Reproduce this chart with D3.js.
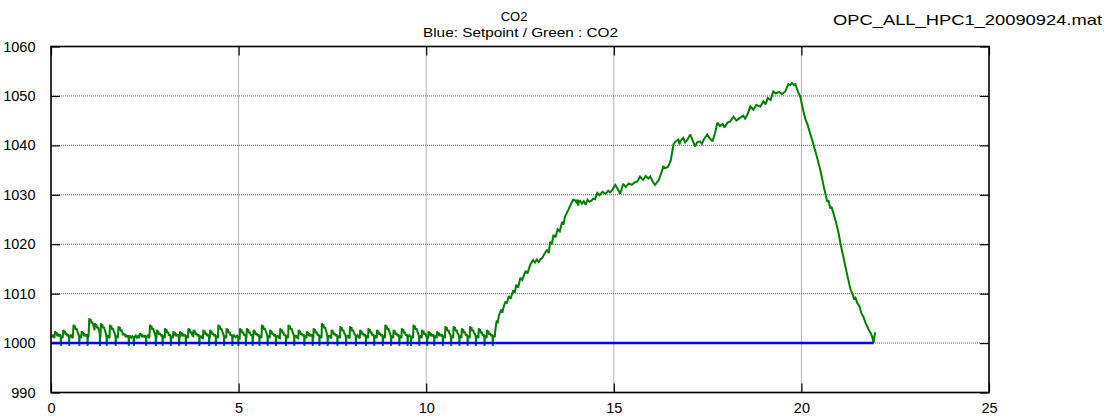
<!DOCTYPE html>
<html>
<head>
<meta charset="utf-8">
<script src="https://cdn.jsdelivr.net/npm/d3@7"></script>
<style>
  html, body { margin: 0; padding: 0; background: #fff; }
  svg { display: block; font-family: "Liberation Sans", Arial, sans-serif; }
</style>
</head>
<body>
<svg id="chart" width="1116" height="419"></svg>
<script>
// ---- data ----
const chartTitle = "CO2";
const chartSubtitle = "Blue: Setpoint / Green : CO2";
const fileLabel = "OPC_ALL_HPC1_20090924.mat";
const xTicks = [0, 5, 10, 15, 20, 25];
const yTicks = [990, 1000, 1010, 1020, 1030, 1040, 1050, 1060];
const xDomain = [0, 25];
const yDomain = [990, 1060];

// Setpoint (blue)
const setpointTime = [0, 21.92];
const setpointValue = [1000, 1000];

// Measured CO2 (green), [time, value]
const co2Series = [
[0,1001.6],[0.03,1001.2],[0.06,1001.7],[0.09,1001.0],[0.11,1002.4],[0.13,1001.9],[0.145,1002.2],[0.17,1001.4],[0.19,1001.7],[0.22,1001.4],[0.24,1001.8],[0.26,1001.2],[0.265,999.4],[0.27,1001.1],[0.29,1001.5],
[0.31,1001.0],[0.33,1002.7],[0.35,1002.2],[0.365,1002.5],[0.39,1001.7],[0.41,1002.0],[0.44,1001.4],[0.46,1001.8],[0.48,1001.2],[0.485,999.4],[0.49,1001.1],[0.53,1001.6],[0.56,1001.2],
[0.58,1001.0],[0.60,1003.7],[0.62,1003.2],[0.635,1003.5],[0.66,1002.7],[0.68,1003.0],[0.71,1002.2],[0.73,1001.9],[0.75,1001.2],[0.755,999.4],[0.76,1001.1],[0.78,1001.5],
[0.80,1001.0],[0.82,1002.4],[0.84,1001.9],[0.855,1002.2],[0.88,1001.4],[0.90,1001.7],[0.93,1001.4],[0.95,1001.8],[0.97,1001.2],[0.975,999.4],[0.98,1001.1],
[1.00,1001.3],[1.02,1005.0],[1.04,1004.5],[1.055,1004.8],[1.08,1004.0],[1.10,1004.3],[1.13,1003.5],[1.15,1003.0],
[1.16,1002.6],[1.17,1004.0],[1.19,1003.5],[1.205,1003.8],[1.23,1003.0],[1.25,1003.3],[1.28,1002.5],[1.30,1002.0],[1.305,999.4],[1.31,1001.4],
[1.32,1001.4],[1.33,1004.0],[1.35,1003.5],[1.365,1003.8],[1.39,1003.0],[1.41,1003.3],[1.44,1002.5],[1.46,1002.0],[1.48,1001.2],[1.485,999.4],[1.49,1001.1],[1.52,1001.6],[1.55,1001.1],
[1.56,1001.0],[1.57,1003.7],[1.59,1003.2],[1.605,1003.5],[1.63,1002.7],[1.65,1003.0],[1.68,1002.2],[1.70,1001.9],[1.72,1001.2],[1.725,999.4],[1.73,1001.1],[1.76,1001.5],
[1.78,1001.0],[1.80,1003.4],[1.82,1002.9],[1.835,1003.2],[1.86,1002.4],[1.88,1002.7],[1.91,1001.9],
[1.92,1001.6],[1.93,1002.0],[1.95,1001.6],[1.965,1001.9],[1.99,1001.2],[2.01,1001.5],[2.04,1001.3],[2.06,1001.6],[2.07,1001.2],[2.075,999.4],[2.08,1001.1],[2.11,1001.5],[2.14,1001.1],[2.17,1001.4],[2.20,1001.2],[2.21,999.4],[2.22,1001.1],[2.26,1001.5],[2.29,1001.1],[2.32,1001.4],[2.35,1001.0],
[2.37,1002.0],[2.39,1001.6],[2.405,1001.9],[2.43,1001.2],[2.45,1001.5],[2.48,1001.3],[2.50,1001.6],[2.53,1001.2],[2.535,999.4],[2.54,1001.1],[2.58,1001.5],[2.61,1001.1],
[2.62,1001.0],[2.64,1003.7],[2.66,1003.2],[2.675,1003.5],[2.70,1002.7],[2.72,1003.0],[2.75,1002.2],[2.77,1001.9],[2.79,1001.2],[2.795,999.4],[2.80,1001.1],
[2.81,1001.0],[2.82,1002.7],[2.84,1002.2],[2.855,1002.5],[2.88,1001.7],[2.90,1002.0],[2.93,1001.4],[2.95,1001.8],[2.97,1001.2],[2.975,999.4],[2.98,1001.1],[3.01,1001.5],
[3.03,1001.0],[3.04,1003.0],[3.06,1002.5],[3.075,1002.8],[3.10,1002.0],[3.12,1002.3],[3.15,1001.5],[3.17,1001.8],[3.19,1001.2],[3.195,999.4],[3.20,1001.1],[3.23,1001.4],
[3.25,1001.0],[3.26,1002.4],[3.28,1001.9],[3.295,1002.2],[3.32,1001.4],[3.34,1001.7],[3.37,1001.4],[3.39,1001.8],[3.41,1001.2],[3.415,999.4],[3.42,1001.1],
[3.43,1001.0],[3.44,1002.4],[3.46,1001.9],[3.475,1002.2],[3.50,1001.4],[3.52,1001.7],[3.55,1001.4],[3.57,1001.8],[3.59,1001.2],[3.595,999.4],[3.60,1001.1],[3.63,1001.5],
[3.65,1001.0],[3.66,1003.0],[3.68,1002.5],[3.695,1002.8],[3.72,1002.0],[3.74,1002.3],[3.77,1001.5],
[3.79,1001.4],[3.80,1002.7],[3.82,1002.2],[3.835,1002.5],[3.86,1001.7],[3.88,1002.0],[3.91,1001.4],[3.93,1001.8],[3.95,1001.2],[3.955,999.4],[3.96,1001.1],[3.99,1001.5],[4.02,1001.1],
[4.05,1001.0],[4.06,1002.7],[4.08,1002.2],[4.095,1002.5],[4.12,1001.7],[4.14,1002.0],[4.17,1001.4],[4.19,1001.8],[4.21,1001.2],[4.215,999.4],[4.22,1001.1],
[4.23,1001.0],[4.24,1002.7],[4.26,1002.2],[4.275,1002.5],[4.30,1001.7],[4.32,1002.0],[4.35,1001.4],[4.37,1001.8],[4.39,1001.2],[4.395,999.4],[4.40,1001.1],[4.43,1001.5],
[4.45,1001.0],[4.46,1003.7],[4.48,1003.2],[4.495,1003.5],[4.52,1002.7],[4.54,1003.0],[4.57,1002.2],[4.59,1001.9],[4.61,1001.2],[4.615,999.4],[4.62,1001.1],[4.65,1001.5],
[4.67,1001.0],[4.68,1003.0],[4.70,1002.5],[4.715,1002.8],[4.74,1002.0],[4.76,1002.3],[4.79,1001.5],[4.81,1001.8],[4.83,1001.2],[4.835,999.4],[4.84,1001.1],[4.88,1001.6],[4.92,1001.2],[4.96,1001.5],[4.99,1001.1],[4.995,999.4],[5.00,1001.1],
[5.03,1001.0],[5.04,1003.0],[5.06,1002.5],[5.075,1002.8],[5.10,1002.0],[5.12,1002.3],[5.15,1001.5],[5.17,1001.8],[5.19,1001.2],[5.195,999.4],[5.20,1001.1],
[5.21,1001.0],[5.22,1003.0],[5.24,1002.5],[5.255,1002.8],[5.28,1002.0],[5.30,1002.3],[5.33,1001.5],[5.35,1001.8],[5.37,1001.2],[5.375,999.4],[5.38,1001.1],
[5.39,1001.0],[5.40,1002.7],[5.42,1002.2],[5.435,1002.5],[5.46,1001.7],[5.48,1002.0],[5.51,1001.4],[5.53,1001.8],[5.55,1001.2],[5.555,999.4],[5.56,1001.1],[5.59,1001.5],
[5.61,1001.0],[5.62,1003.7],[5.64,1003.2],[5.655,1003.5],[5.68,1002.7],[5.70,1003.0],[5.73,1002.2],[5.75,1001.9],[5.77,1001.2],[5.775,999.4],[5.78,1001.1],[5.81,1001.5],
[5.83,1001.0],[5.84,1002.7],[5.86,1002.2],[5.875,1002.5],[5.90,1001.7],[5.92,1002.0],[5.95,1001.4],[5.97,1001.8],[5.99,1001.2],[5.995,999.4],[6.00,1001.1],[6.04,1001.6],[6.07,1001.1],
[6.10,1001.0],[6.11,1003.0],[6.13,1002.5],[6.145,1002.8],[6.17,1002.0],[6.19,1002.3],[6.22,1001.5],[6.24,1001.8],[6.26,1001.2],[6.265,999.4],[6.27,1001.1],[6.30,1001.5],
[6.32,1001.0],[6.33,1003.7],[6.35,1003.2],[6.365,1003.5],[6.39,1002.7],[6.41,1003.0],[6.44,1002.2],[6.46,1001.9],[6.48,1001.2],[6.485,999.4],[6.49,1001.1],[6.53,1001.6],[6.56,1001.1],
[6.59,1001.0],[6.60,1002.7],[6.62,1002.2],[6.635,1002.5],[6.66,1001.7],[6.68,1002.0],[6.71,1001.4],[6.73,1001.8],[6.75,1001.2],[6.755,999.4],[6.76,1001.1],[6.79,1001.5],
[6.81,1001.0],[6.82,1002.4],[6.84,1001.9],[6.855,1002.2],[6.88,1001.4],[6.90,1001.7],[6.93,1001.4],[6.95,1001.8],[6.97,1001.2],[6.975,999.4],[6.98,1001.1],
[6.99,1001.0],[7.00,1003.0],[7.02,1002.5],[7.035,1002.8],[7.06,1002.0],[7.08,1002.3],[7.11,1001.5],[7.13,1001.8],[7.15,1001.2],[7.155,999.4],[7.16,1001.1],[7.19,1001.5],
[7.21,1001.0],[7.22,1004.0],[7.24,1003.5],[7.255,1003.8],[7.28,1003.0],[7.30,1003.3],[7.33,1002.5],[7.35,1002.0],[7.37,1001.2],[7.375,999.4],[7.38,1001.1],[7.42,1001.6],[7.45,1001.1],
[7.47,1001.0],[7.48,1002.7],[7.50,1002.2],[7.515,1002.5],[7.54,1001.7],[7.56,1002.0],[7.59,1001.4],[7.61,1001.8],[7.63,1001.2],[7.635,999.4],[7.64,1001.1],[7.67,1001.5],
[7.70,1001.0],[7.71,1003.4],[7.73,1002.9],[7.745,1003.2],[7.77,1002.4],[7.79,1002.7],[7.82,1001.9],[7.84,1001.8],[7.86,1001.2],[7.865,999.4],[7.87,1001.1],[7.91,1001.6],[7.94,1001.1],
[7.96,1001.0],[7.97,1003.4],[7.99,1002.9],[8.005,1003.2],[8.03,1002.4],[8.05,1002.7],[8.08,1001.9],[8.10,1001.8],[8.12,1001.2],[8.125,999.4],[8.13,1001.1],[8.17,1001.6],[8.21,1001.1],
[8.23,1001.0],[8.24,1002.7],[8.26,1002.2],[8.275,1002.5],[8.30,1001.7],[8.32,1002.0],[8.35,1001.4],[8.37,1001.8],[8.39,1001.2],[8.395,999.4],[8.40,1001.1],[8.43,1001.5],
[8.45,1001.0],[8.46,1003.0],[8.48,1002.5],[8.495,1002.8],[8.52,1002.0],[8.54,1002.3],[8.57,1001.5],[8.59,1001.8],[8.61,1001.2],[8.615,999.4],[8.62,1001.1],[8.66,1001.5],
[8.68,1001.0],[8.69,1002.7],[8.71,1002.2],[8.725,1002.5],[8.75,1001.7],[8.77,1002.0],[8.80,1001.4],[8.82,1001.8],[8.84,1001.2],[8.845,999.4],[8.85,1001.1],[8.88,1001.5],
[8.90,1001.0],[8.91,1003.7],[8.93,1003.2],[8.945,1003.5],[8.97,1002.7],[8.99,1003.0],[9.02,1002.2],[9.04,1001.9],[9.06,1001.2],[9.065,999.4],[9.07,1001.1],[9.10,1001.5],
[9.12,1001.0],[9.13,1002.7],[9.15,1002.2],[9.165,1002.5],[9.19,1001.7],[9.21,1002.0],[9.24,1001.4],[9.26,1001.8],[9.28,1001.2],[9.285,999.4],[9.29,1001.1],[9.32,1001.5],
[9.34,1001.0],[9.35,1003.0],[9.37,1002.5],[9.385,1002.8],[9.41,1002.0],[9.43,1002.3],[9.46,1001.5],[9.48,1001.8],[9.50,1001.2],[9.505,999.4],[9.51,1001.1],[9.55,1001.6],[9.59,1001.2],[9.595,999.4],[9.60,1001.1],[9.63,1001.4],
[9.65,1001.0],[9.66,1003.7],[9.68,1003.2],[9.695,1003.5],[9.72,1002.7],[9.74,1003.0],[9.77,1002.2],[9.79,1001.9],[9.81,1001.2],[9.815,999.4],[9.82,1001.1],[9.86,1001.5],
[9.88,1001.0],[9.89,1002.7],[9.91,1002.2],[9.925,1002.5],[9.95,1001.7],[9.97,1002.0],[10.00,1001.4],[10.02,1001.2],[10.025,999.4],[10.03,1001.1],
[10.05,1001.0],[10.06,1002.4],[10.08,1001.9],[10.095,1002.2],[10.12,1001.4],[10.14,1001.7],[10.17,1001.4],[10.19,1001.8],[10.21,1001.2],[10.215,999.4],[10.22,1001.1],[10.26,1001.5],
[10.28,1001.0],[10.29,1002.4],[10.31,1001.9],[10.325,1002.2],[10.35,1001.4],[10.37,1001.7],[10.40,1001.4],[10.42,1001.8],[10.44,1001.2],[10.445,999.4],[10.45,1001.1],[10.48,1001.5],
[10.50,1001.0],[10.51,1003.4],[10.53,1002.9],[10.545,1003.2],[10.57,1002.4],[10.59,1002.7],[10.62,1001.9],[10.64,1001.8],[10.66,1001.2],[10.665,999.4],[10.67,1001.1],[10.70,1001.5],
[10.72,1001.0],[10.73,1003.4],[10.75,1002.9],[10.765,1003.2],[10.79,1002.4],[10.81,1002.7],[10.84,1001.9],[10.86,1001.8],[10.88,1001.2],[10.885,999.4],[10.89,1001.1],[10.92,1001.5],
[10.94,1001.0],[10.95,1003.0],[10.97,1002.5],[10.985,1002.8],[11.01,1002.0],[11.03,1002.3],[11.06,1001.5],[11.08,1001.8],[11.10,1001.2],[11.105,999.4],[11.11,1001.1],[11.14,1001.5],
[11.16,1001.0],[11.17,1003.4],[11.19,1002.9],[11.205,1003.2],[11.23,1002.4],[11.25,1002.7],[11.28,1001.9],[11.30,1001.8],[11.32,1001.2],[11.325,999.4],[11.33,1001.1],[11.37,1001.5],
[11.39,1001.0],[11.40,1003.0],[11.42,1002.5],[11.435,1002.8],[11.46,1002.0],[11.48,1002.3],[11.51,1001.5],[11.53,1001.8],[11.55,1001.2],[11.555,999.4],[11.56,1001.1],[11.59,1001.5],
[11.61,1001.0],[11.62,1002.7],[11.64,1002.2],[11.655,1002.5],[11.68,1001.7],[11.70,1002.0],[11.73,1001.4],[11.75,1001.8],[11.77,1001.2],[11.775,999.4],[11.78,1001.1],[11.81,1001.5],[11.83,1001.2],
[11.84,1002.5],[11.88,1004.6],[11.90,1004.0],[11.94,1005.6],[12.00,1006.8],[12.03,1006.1],[12.05,1006.9],[12.11,1008.4],[12.15,1008.0],[12.20,1009.5],[12.25,1009.0],
[12.32,1010.7],[12.36,1010.2],[12.40,1011.8],[12.45,1011.2],[12.51,1013.2],[12.56,1012.8],[12.65,1014.6],[12.70,1014.1],[12.77,1015.8],
[12.85,1016.8],[12.90,1016.3],[12.95,1016.9],[13.00,1016.4],[13.05,1017.0],[13.09,1017.2],[13.15,1018.0],[13.22,1018.9],[13.27,1018.2],
[13.30,1020.5],[13.35,1020.0],[13.39,1021.9],[13.45,1021.4],[13.50,1023.0],[13.56,1022.6],[13.62,1024.5],[13.66,1024.0],[13.70,1025.6],
[13.79,1027.0],[13.85,1028.0],[13.92,1029.0],[13.96,1028.9],[14.00,1028.5],[14.03,1029.0],[14.05,1027.8],[14.07,1028.7],[14.10,1028.8],[14.15,1028.2],[14.20,1028.7],
[14.25,1028.0],[14.30,1029.0],[14.35,1028.6],[14.40,1028.8],[14.45,1029.2],[14.50,1029.1],[14.56,1030.4],[14.62,1029.9],[14.70,1030.6],
[14.78,1030.2],[14.85,1030.8],[14.90,1030.5],[14.96,1031.0],[15.04,1032.0],[15.10,1031.2],[15.17,1030.2],[15.25,1032.2],[15.32,1031.6],
[15.40,1032.3],[15.48,1032.0],[15.55,1032.5],[15.63,1032.7],[15.70,1033.7],[15.78,1033.0],[15.85,1033.8],[15.92,1033.3],[15.97,1033.7],
[16.05,1032.5],[16.10,1032.0],[16.20,1033.0],[16.29,1035.0],[16.32,1035.7],[16.38,1035.4],[16.45,1035.7],[16.52,1037.0],
[16.59,1040.2],[16.65,1040.8],[16.72,1041.2],[16.75,1040.2],[16.78,1040.9],[16.85,1041.5],[16.90,1040.6],[16.95,1041.0],[17.04,1042.2],
[17.10,1041.0],[17.17,1039.8],[17.22,1040.6],[17.30,1040.8],[17.35,1040.3],[17.40,1041.2],[17.49,1042.2],[17.55,1041.5],[17.63,1040.8],
[17.70,1042.5],[17.76,1044.6],[17.83,1043.9],[17.90,1044.3],[17.95,1043.6],[18.03,1044.6],[18.10,1044.8],[18.19,1045.8],
[18.27,1045.0],[18.35,1045.5],[18.45,1046.0],[18.50,1045.4],[18.56,1046.2],[18.64,1047.9],[18.72,1047.2],[18.80,1048.2],
[18.90,1047.8],[18.99,1048.9],[19.05,1048.3],[19.10,1049.6],[19.18,1049.2],[19.25,1050.9],[19.32,1050.5],[19.40,1050.8],[19.48,1050.4],[19.57,1050.9],
[19.65,1052.4],[19.70,1052.2],[19.75,1052.6],[19.80,1052.2],[19.84,1052.4],[19.92,1050.6],[19.97,1049.9],[20.05,1047.0],[20.11,1045.2],
[20.16,1044.3],[20.25,1042.0],[20.32,1040.2],[20.42,1037.5],[20.51,1034.8],[20.60,1031.5],[20.69,1028.6],
[20.72,1028.9],[20.77,1027.2],[20.80,1027.6],[20.85,1026.4],[20.92,1024.5],[20.99,1022.3],[21.05,1019.8],[21.12,1017.4],[21.20,1014.5],
[21.31,1010.8],[21.36,1010.0],[21.40,1009.0],[21.44,1009.2],[21.49,1008.1],[21.55,1007.4],[21.60,1006.0],[21.66,1005.2],[21.71,1004.1],[21.80,1002.6],[21.85,1002.0],[21.89,1001.2],
[21.92,1000.0],[21.95,1001.5],[21.97,1002.2]
];

// ---- layout ----
const W = 1116, H = 419;
const margin = { left: 51, right: W - 989, top: 46.5, bottom: H - 392.5 };
const svg = d3.select("#chart");

const x = d3.scaleLinear().domain(xDomain).range([margin.left, W - margin.right]);
const y = d3.scaleLinear().domain(yDomain).range([H - margin.bottom, margin.top]);

const x0 = x.range()[0], x1 = x.range()[1];
const yb = y.range()[0], yt = y.range()[1];

// Grid (dotted)
const grid = svg.append("g");
grid.selectAll("line.vg").data(xTicks.filter(d => d > xDomain[0] && d < xDomain[1])).join("line")
  .attr("x1", d => x(d)).attr("x2", d => x(d)).attr("y1", yt).attr("y2", yb)
  .attr("stroke", "#666").attr("stroke-width", 1).attr("stroke-dasharray", "1,1");
grid.selectAll("line.hg").data(yTicks.filter(d => d > yDomain[0] && d < yDomain[1])).join("line")
  .attr("x1", x0).attr("x2", x1).attr("y1", d => y(d)).attr("y2", d => y(d))
  .attr("stroke", "#666").attr("stroke-width", 1).attr("stroke-dasharray", "1,1");

// Lines
const line = d3.line().x(d => x(d[0])).y(d => y(d[1]));
svg.append("path").datum(co2Series)
  .attr("d", line).attr("fill", "none")
  .attr("stroke", "#008000").attr("stroke-width", 2).attr("stroke-linejoin", "miter").attr("stroke-miterlimit", 2);

const spData = setpointTime.map((t, i) => [t, setpointValue[i]]);
svg.append("path").datum(spData)
  .attr("d", line).attr("fill", "none")
  .attr("stroke", "#0000ff").attr("stroke-width", 2.6);

// Axes (ticks inside) using d3 axes
const tickLen = 9;
const axisBottom = d3.axisBottom(x).tickValues(xTicks).tickSizeInner(-tickLen).tickSizeOuter(0).tickPadding(tickLen + 4).tickFormat(d3.format("d"));
const axisLeft = d3.axisLeft(y).tickValues(yTicks).tickSizeInner(-tickLen).tickSizeOuter(0).tickPadding(tickLen + 6.5).tickFormat(d3.format("d"));
const axisTop = d3.axisTop(x).tickValues(xTicks).tickSizeInner(-tickLen).tickSizeOuter(0).tickFormat("");
const axisRight = d3.axisRight(y).tickValues(yTicks).tickSizeInner(-tickLen).tickSizeOuter(0).tickFormat("");

function styleAxis(g) {
  g.select(".domain").remove();
  g.selectAll(".tick line").attr("stroke", "#000").attr("stroke-width", 1.2);
  g.selectAll(".tick text").attr("fill", "#000").attr("font-size", 14.5).attr("font-family", "'Liberation Sans', Arial, sans-serif");
}
svg.append("g").attr("transform", `translate(0,${yb})`).call(axisBottom).call(styleAxis)
  .selectAll(".tick text").attr("dy", "0.71em").attr("y", 10.5);
svg.append("g").attr("transform", `translate(${x0},0)`).call(axisLeft).call(styleAxis);
svg.append("g").attr("transform", `translate(0,${yt})`).call(axisTop).call(styleAxis);
svg.append("g").attr("transform", `translate(${x1},0)`).call(axisRight).call(styleAxis);

// Frame
svg.append("rect").attr("x", x0).attr("y", yt).attr("width", x1 - x0).attr("height", yb - yt)
  .attr("fill", "none").attr("stroke", "#000").attr("stroke-width", 1.6);

// Titles
svg.append("text").attr("x", 514).attr("y", 20.5).attr("text-anchor", "middle")
  .attr("font-size", 13).attr("fill", "#000").text(chartTitle);
svg.append("text").attr("x", 520.5).attr("y", 36.7).attr("text-anchor", "middle")
  .attr("font-size", 13).attr("fill", "#000")
  .attr("textLength", 195).attr("lengthAdjust", "spacingAndGlyphs").text(chartSubtitle);
svg.append("text").attr("x", 1102).attr("y", 25).attr("text-anchor", "end")
  .attr("font-size", 14.5).attr("fill", "#000")
  .attr("textLength", 269).attr("lengthAdjust", "spacingAndGlyphs").text(fileLabel);
</script>
</body>
</html>
